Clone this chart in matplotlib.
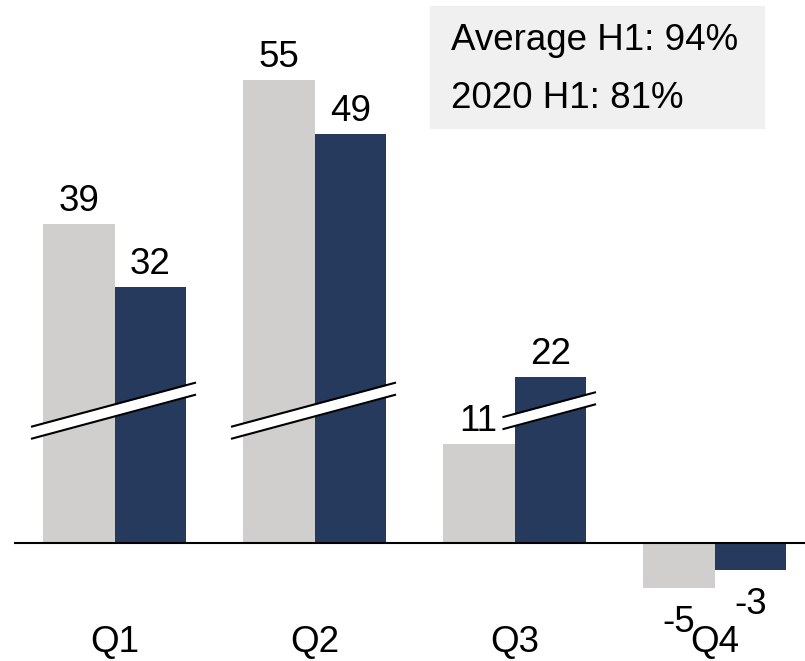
import matplotlib
matplotlib.use("Agg")
import matplotlib.pyplot as plt
import numpy as np
from matplotlib.patches import Rectangle

# Data
quarters = ["Q1", "Q2", "Q3", "Q4"]
average_vals = [39, 55, 11, -5]
vals_2020 = [32, 49, 22, -3]
summary_lines = ["Average H1: 94%", "2020 H1: 81%"]

grey = "#D0CFCD"
navy = "#263A5E"
box_bg = "#F0F0F0"

# Broken value axis: values between break_level and break_level + axis_cut are skipped
break_level = 14.7
axis_cut = 3.55


def shown(v):
    return v - axis_cut if v > break_level + axis_cut else v


plt.rcParams["font.family"] = ["Liberation Sans", "DejaVu Sans"]
plt.rcParams["font.size"] = 26.5

W, H = 805, 661
fig = plt.figure(figsize=(W / 100, H / 100), dpi=100)
ax = fig.add_axes([0, 0, 1, 1])
ax.axis("off")

px_per_group = 200.0
x0_px = 114.5
ax.set_xlim(-x0_px / px_per_group, (W - x0_px) / px_per_group)
px_per_unit = 9.0
base_px = 543
ax.set_ylim(-(H - base_px) / px_per_unit, base_px / px_per_unit)

x = np.arange(len(quarters))
w = 0.3575

series = [(average_vals, -w / 2, grey), (vals_2020, w / 2, navy)]
for vals, off, col in series:
    heights = [shown(v) for v in vals]
    ax.bar(x + off, heights, w, color=col, zorder=2, linewidth=0)
    for xi, v, h in zip(x, vals, heights):
        if v >= 0:
            ax.annotate(str(v), (xi + off, h), xytext=(0, 9.4),
                        textcoords="offset points", ha="center",
                        va="baseline", zorder=5)
        else:
            ax.annotate(str(v), (xi + off, h), xytext=(0, -12.0),
                        textcoords="offset points", ha="center",
                        va="top", zorder=5)

# Break marks across the bars that pass the break level
slope = 5.96
half_t = 0.67
for i in range(len(quarters)):
    broken = [off for vals, off, _ in series if vals[i] > break_level + axis_cut]
    if not broken:
        continue
    left = x[i] + min(broken) - w / 2 - 0.06
    right = x[i] + max(broken) + w / 2 + 0.05
    xc = (left + right) / 2
    xs = np.array([left, right])
    ys = break_level + slope * (xs - xc)
    ax.fill_between(xs, ys - half_t, ys + half_t, color="white",
                    linewidth=0, zorder=3)
    ax.plot(xs, ys + half_t, color="black", lw=1.5, zorder=4,
            solid_capstyle="butt")
    ax.plot(xs, ys - half_t, color="black", lw=1.5, zorder=4,
            solid_capstyle="butt")

# Zero line
ax.plot([(14 - x0_px) / px_per_group, (W - x0_px) / px_per_group], [0, 0],
        color="black", lw=1.5, zorder=4, solid_capstyle="butt")

# Category labels
label_y = -(652 - base_px) / px_per_unit
for xi, q in zip(x, quarters):
    ax.text(xi, label_y, q, ha="center", va="baseline", zorder=5)

# Summary box
fig.patches.append(Rectangle((430 / W, 1 - 128 / H), 334 / W, 122 / H,
                             transform=fig.transFigure, color=box_bg,
                             zorder=0))
for line, y_px in zip(summary_lines, [50, 108]):
    fig.text(451 / W, 1 - y_px / H, line, ha="left", va="baseline")

fig.savefig("out.png", dpi=100)
